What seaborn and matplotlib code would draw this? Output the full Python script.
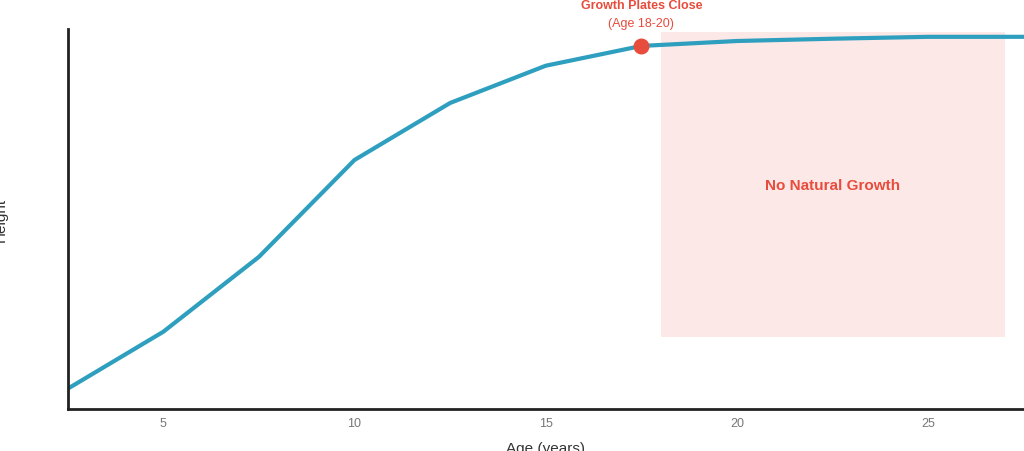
import matplotlib
matplotlib.use("Agg")
import matplotlib.pyplot as plt
import seaborn as sns
import pandas as pd

ages = [2.5, 5, 7.5, 10, 12.5, 15, 17.5, 20, 22.5, 25, 27.5]
heights = [5.3, 20.3, 40.0, 65.5, 80.5, 90.3, 95.5, 96.8, 97.4, 97.9, 97.9]
plate_age = 17.5
plate_height = 95.5
zone_start, zone_end = 18.0, 27.0
zone_low, zone_high = 19.0, 99.2
xticks = [5, 10, 15, 20, 25]

sns.set_style("white")
plt.rcParams['font.family'] = ['Liberation Sans', 'DejaVu Sans']

df = pd.DataFrame({'Age': ages, 'Height': heights})

fig = plt.figure(figsize=(10.24, 4.52), dpi=100)
ax = fig.add_axes([0.066, 0.093, 0.934, 0.841])

red = '#e74c3c'
ax.add_patch(plt.Rectangle((zone_start, zone_low), zone_end - zone_start, zone_high - zone_low,
                           facecolor='#fde8e8', edgecolor='none', zorder=0))
ax.text((zone_start + zone_end) / 2, 59, 'No Natural Growth', color=red,
        fontsize=11, fontweight='bold', ha='center', va='center')

sns.lineplot(data=df, x='Age', y='Height', ax=ax, color='#2e9fbf', linewidth=3, zorder=2)
ax.scatter([plate_age], [plate_height], s=110, color=red, zorder=3)
ax.text(plate_age, 106.4, 'Growth Plates Close', color=red, fontsize=9, fontweight='bold',
        ha='center', va='center', clip_on=False)
ax.text(plate_age, 101.6, '(Age 18-20)', color=red, fontsize=9, ha='center', va='center',
        clip_on=False)

ax.set_xlim(2.5, 27.5)
ax.set_ylim(0, 100)
ax.set_xticks(xticks)
ax.set_yticks([])
ax.tick_params(axis='x', colors='#777777', labelsize=9, length=0, pad=6)
ax.set_xlabel('Age (years)', fontsize=11, color='#333333')
ax.set_ylabel('Height', fontsize=11, color='#333333')
ax.xaxis.set_label_coords(0.5, -0.085)
ax.yaxis.set_label_coords(-0.063, 0.5)
for s in ['top', 'right']:
    ax.spines[s].set_visible(False)
for s in ['left', 'bottom']:
    ax.spines[s].set_color('#222222')
    ax.spines[s].set_linewidth(2)

fig.savefig('out.png', dpi=100)
